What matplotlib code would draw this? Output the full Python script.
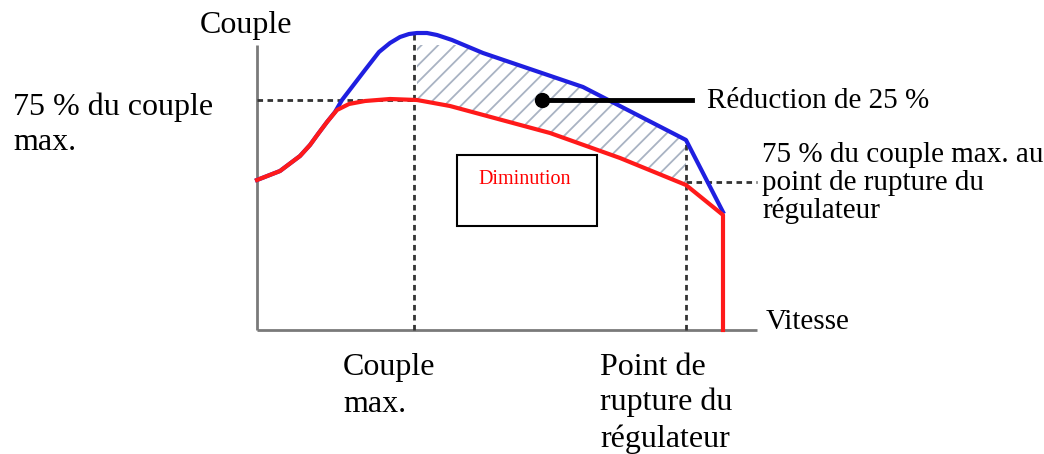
import numpy as np
import matplotlib
matplotlib.use("Agg")
import matplotlib.pyplot as plt
from matplotlib.patches import Rectangle

# speed / torque in arbitrary units (origin at the axes corner)
red_speed = [0, 23, 43, 53, 61, 70, 80, 92, 108, 133, 160, 193, 293, 363, 429, 466, 466]
red_torque = [150, 159, 174, 185, 196, 208, 220, 226, 229, 231, 230, 224, 197, 172, 145, 115, 0]

blue_speed = [0, 23, 43, 53, 61, 70, 78, 85, 108, 122, 133, 143, 152, 160, 170, 180, 195, 226, 326, 429, 466]
blue_torque = [150, 159, 174, 185, 196, 208, 218, 230, 260, 278, 287, 293, 296, 297, 297, 295, 290, 277, 243, 190, 118]

max_torque_speed = 157      # "Couple max."
governor_speed = 429        # "Point de rupture du régulateur"
level_75 = 230              # 75 % du couple max.
level_75_governor = 148     # 75 % au point de rupture

plt.rcParams['font.family'] = ['Liberation Serif', 'DejaVu Serif']
plt.rcParams['hatch.color'] = '#a9b3c3'
plt.rcParams['hatch.linewidth'] = 1.3

fig = plt.figure(figsize=(10.44, 4.54), dpi=100)
ax = fig.add_axes([257/1044, (454-330)/454, 500/1044, 285/454])
ax.set_xlim(0, 500)
ax.set_ylim(0, 285)
ax.axis('off')

# axes
ax.plot([0, 500], [0, 0], color='#7a7a7a', lw=2, clip_on=False, solid_capstyle='butt')
ax.plot([0, 0], [0, 285], color='#7a7a7a', lw=2, clip_on=False, solid_capstyle='butt')

# hatched reduction zone
xs = np.linspace(max_torque_speed + 3, governor_speed, 200)
ax.fill_between(xs, np.interp(xs, red_speed[:-1], red_torque[:-1]),
                np.interp(xs, blue_speed, blue_torque),
                facecolor='white', edgecolor='#a9b3c3', hatch='//', linewidth=0)

# dashed guides
dash = dict(color='#333333', lw=2, linestyle=(0, (2, 1.6)), clip_on=False)
ax.plot([0, max_torque_speed], [level_75, level_75], **dash)
ax.plot([max_torque_speed, max_torque_speed], [0, 297], **dash)
ax.plot([governor_speed, governor_speed], [0, 190], **dash)
ax.plot([governor_speed, 500], [level_75_governor, level_75_governor], **dash)

# curves
ax.plot(blue_speed, blue_torque, color='#1f1fe0', lw=3, clip_on=False, solid_joinstyle='round')
ax.plot(red_speed, red_torque, color='#ff1a1a', lw=3, clip_on=False, solid_joinstyle='round')

# annotation
ax.plot([285, 435], [level_75, level_75], color='black', lw=3.5, clip_on=False)
ax.plot([285], [level_75], 'o', color='black', ms=10, clip_on=False)

# box
ax.add_patch(Rectangle((200, 104), 140, 71, facecolor='white', edgecolor='black', lw=1.5))
ax.text(268, 150, 'Diminution', color='red', fontsize=14.5, ha='center', va='center')

big = 23
small = 21
texts = [
    ('Couple', -57, 297, big),
    ('75 % du couple', -244, 215, big),
    ('max.', -244, 180, big),
    ('Réduction de 25 %', 450, 222, small),
    ('75 % du couple max. au', 505, 168, small),
    ('point de rupture du', 505, 140, small),
    ('régulateur', 505, 112, small),
    ('Vitesse', 509, 1, small),
    ('Couple', 86, -45, big),
    ('max.', 86, -82, big),
    ('Point de', 343, -45, big),
    ('rupture du', 343, -80, big),
    ('régulateur', 343, -117, big),
]
for s, x, y, fs in texts:
    ax.text(x, y, s, fontsize=fs, ha='left', va='baseline', clip_on=False)

fig.savefig('out.png', dpi=100)
